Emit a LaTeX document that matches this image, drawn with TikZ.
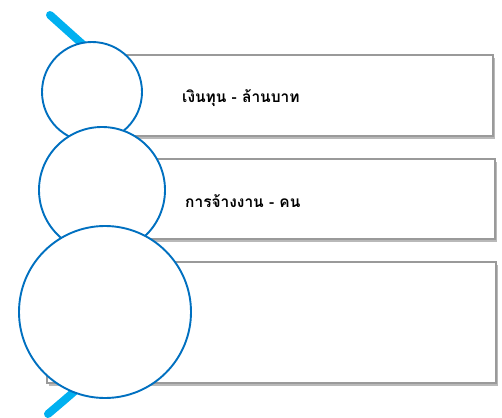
\documentclass[tikz,border=0pt]{standalone}
\usepackage{fontspec}
\newfontfamily\thaifont[Script=Thai]{Loma}
\usetikzlibrary{shadows}
\definecolor{ringblue}{HTML}{0070C0}
\definecolor{arccyan}{HTML}{00B0F0}
\definecolor{boxgray}{HTML}{9A9A9A}
\tikzset{
  listbox/.style={draw=boxgray, line width=1.3pt, fill=white,
    drop shadow={shadow xshift=2pt, shadow yshift=-3pt, opacity=0.5, fill=black!55}},
  ring/.style={draw=ringblue, line width=1.9pt, fill=white, circle, inner sep=0pt},
  arcline/.style={draw=arccyan, line width=8pt, line cap=round},
  label/.style={font=\thaifont\bfseries\fontsize{15.5}{18}\selectfont, anchor=west, inner sep=0pt}
}
\begin{document}
\begin{tikzpicture}[x=1pt,y=-1pt]
\useasboundingbox (0,0) rectangle (502,417);
% cyan arc segments
\coordinate (t1) at (50,15);
\coordinate (t2) at (98,58);
\coordinate (b1) at (48,414);
\coordinate (b2) at (92,376);
\draw[arcline] (t1) .. controls (70,33) .. (t2);
\draw[arcline] (b1) .. controls (68,397) .. (b2);
% boxes
\path[listbox] (80,55) rectangle (493,136);
\path[listbox] (70,159) rectangle (495,239);
\path[listbox] (47,262) rectangle (496,383);
% circles
\node[ring, minimum size=100pt] (c1) at (92,92) {};
\node[ring, minimum size=126pt] (c2) at (102,190) {};
\node[ring, minimum size=172pt] (c3) at (105,312) {};
% labels
\node[label] (l1) at (182,98) {เงินทุน - ล้านบาท};
\node[label] (l2) at (185,201) {การจ้างงาน - คน};
\end{tikzpicture}
\end{document}
